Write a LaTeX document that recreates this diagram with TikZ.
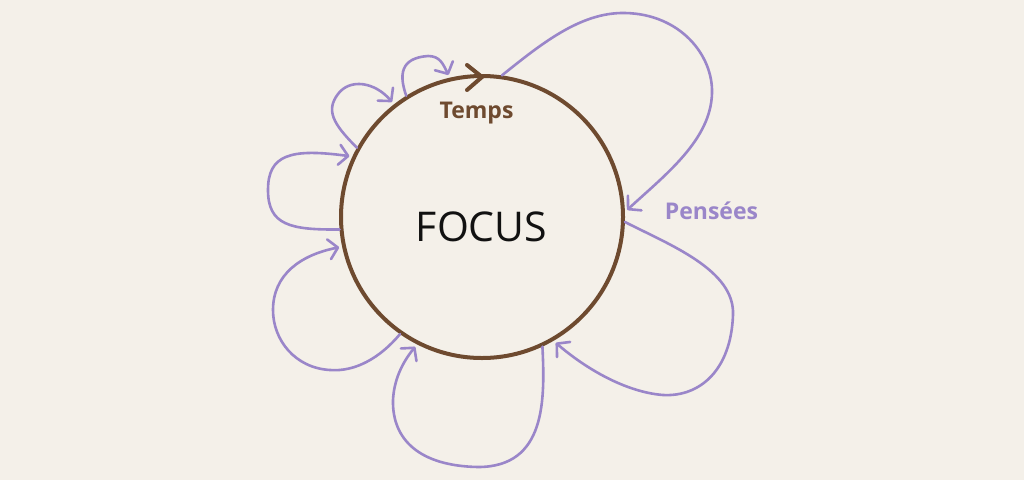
\documentclass[tikz,border=0pt]{standalone}
\usepackage{fontspec}
\setmainfont{Open Sans}
\usetikzlibrary{arrows.meta}
\definecolor{bgc}{HTML}{F4F0E9}
\definecolor{brownc}{HTML}{6E4A2F}
\definecolor{purplec}{HTML}{9A86C9}
\definecolor{textc}{HTML}{111111}
\tikzset{
  ring/.style={circle, draw=brownc, line width=4pt, minimum size=282pt, inner sep=0pt},
  thought/.style={draw=purplec, line width=2.6pt, line cap=round, line join=round,
    -{Straight Barb[length=9pt,width=20pt,round]}, shorten >=3pt},
  focustext/.style={text=textc, font=\fontsize{41}{45}\selectfont, inner sep=0pt},
  tempstext/.style={text=brownc, font=\fontsize{23}{27}\selectfont\bfseries, inner sep=0pt, anchor=base},
  penseestext/.style={text=purplec, font=\fontsize{23}{27}\selectfont\bfseries, inner sep=0pt, anchor=base},
  chevron/.style={draw=brownc, line width=4pt, line cap=round, line join=miter}
}
\begin{document}
\begin{tikzpicture}[x=1pt,y=-1pt]
\fill[bgc] (0,0) rectangle (1024,480);
\useasboundingbox (0,0) rectangle (1024,480);
\node[ring] (focus) at (482,217) {};
\node[focustext] (focuslabel) at (481.5,227) {FOCUS};
\node[tempstext] (temps) at (476.5,118.5) {Temps};
\node[penseestext] (pensees) at (711.5,219.5) {Pensées};
\coordinate (ttip) at (482,77);
\draw[chevron] (467,65) -- (ttip) -- (467,90);
% loop 1
\draw[thought] (focus.122) .. controls (399,75) and (400,58) .. (428,56)
  .. controls (440,56) and (443,64) .. (focus.103);
% loop 2
\draw[thought] (focus.151) .. controls (332,123) and (326,110) .. (338,94)
  .. controls (350,78) and (375,82) .. (focus.128);
% loop 3
\draw[thought] (focus.185) .. controls (290,230) and (268,225) .. (268,190)
  .. controls (268,155) and (290,148) .. (focus.155);
% loop 4
\draw[thought] (focus.235) .. controls (380,358) and (355,372) .. (330,370)
  .. controls (295,368) and (273,340) .. (273,310)
  .. controls (273,275) and (300,255) .. (focus.192);
% loop 5
\draw[thought] (focus.295) .. controls (545,400) and (546,467) .. (478,467)
  .. controls (420,466) and (392,440) .. (393,400)
  .. controls (394,380) and (402,363) .. (focus.243);
% loop 6
\draw[thought] (focus.358) .. controls (670,245) and (735,270) .. (733,315)
  .. controls (731,370) and (700,397) .. (663,395)
  .. controls (625,392) and (585,368) .. (focus.300);
% loop 7
\draw[thought] (focus.82) .. controls (540,45) and (580,12) .. (625,13)
  .. controls (680,14) and (713,55) .. (712,93)
  .. controls (711,140) and (665,175) .. (focus.2);
\end{tikzpicture}
\end{document}
